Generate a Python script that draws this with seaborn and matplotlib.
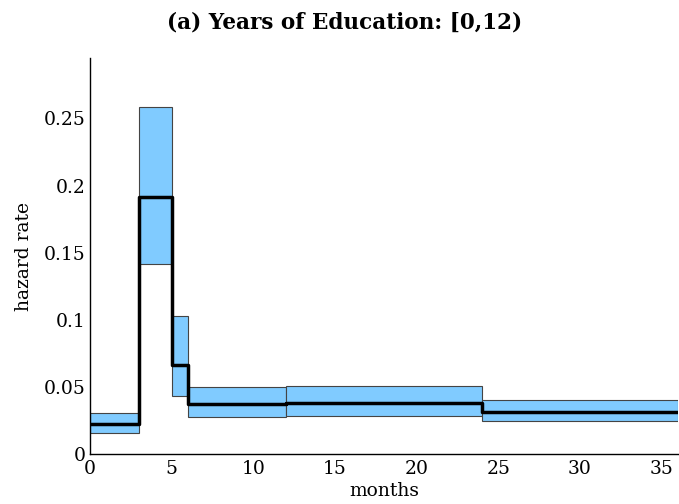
import matplotlib
matplotlib.use("Agg")
import matplotlib.pyplot as plt
import seaborn as sns
import numpy as np
import pandas as pd

# Data
interval_start = [0, 3, 5, 6, 12, 24]
interval_end = [3, 5, 6, 12, 24, 36]
hazard = [0.0221, 0.1911, 0.0665, 0.0375, 0.0382, 0.0313]
lower = [0.0154, 0.1415, 0.0432, 0.0278, 0.0287, 0.0243]
upper = [0.0308, 0.2586, 0.1025, 0.0503, 0.0506, 0.0404]
x_ticks = [0, 5, 10, 15, 20, 25, 30, 35]
y_ticks = [0, 0.05, 0.1, 0.15, 0.2, 0.25]
y_tick_labels = ["0", "0.05", "0.1", "0.15", "0.2", "0.25"]

sns.set_theme(style="white")
plt.rcParams['font.family'] = ['DejaVu Serif']
plt.rcParams['text.color'] = 'black'
plt.rcParams['axes.labelcolor'] = 'black'

fig = plt.figure(figsize=(6.79, 5.04), dpi=100)
ax = fig.add_axes([0.1325, 0.099, 0.866, 0.786])

widths = [e - s for s, e in zip(interval_start, interval_end)]
heights = [u - l for u, l in zip(upper, lower)]
ax.bar(interval_start, heights, bottom=lower, width=widths, align='edge',
       color='#80CBFF', edgecolor='#444444', linewidth=0.8, zorder=1)

df = pd.DataFrame({
    "months": interval_start + [interval_end[-1]],
    "rate": hazard + [hazard[-1]],
})
sns.lineplot(data=df, x="months", y="rate", drawstyle="steps-post",
             color="black", linewidth=2.5, ax=ax, zorder=3)

ax.set_xlim(0, 36)
ax.set_ylim(0, 0.295)
ax.set_xticks(x_ticks)
ax.set_yticks(y_ticks)
ax.set_yticklabels(y_tick_labels)
ax.tick_params(axis='both', direction='in', length=3, width=0.8,
               labelsize=13.5, colors='black', pad=3)
ax.tick_params(axis='x', length=0, pad=4)
for s in ['top', 'right']:
    ax.spines[s].set_visible(False)
for s in ['left', 'bottom']:
    ax.spines[s].set_color('black')
    ax.spines[s].set_linewidth(1.0)

ax.set_xlabel("months", fontsize=13.5, labelpad=3)
ax.set_ylabel("hazard rate", fontsize=13.5, labelpad=8)
fig.text(0.507, 0.955, "(a) Years of Education: [0,12)", ha='center', va='center',
         fontsize=15.5, fontweight='bold', color='black')

fig.savefig("out.png", dpi=100)
